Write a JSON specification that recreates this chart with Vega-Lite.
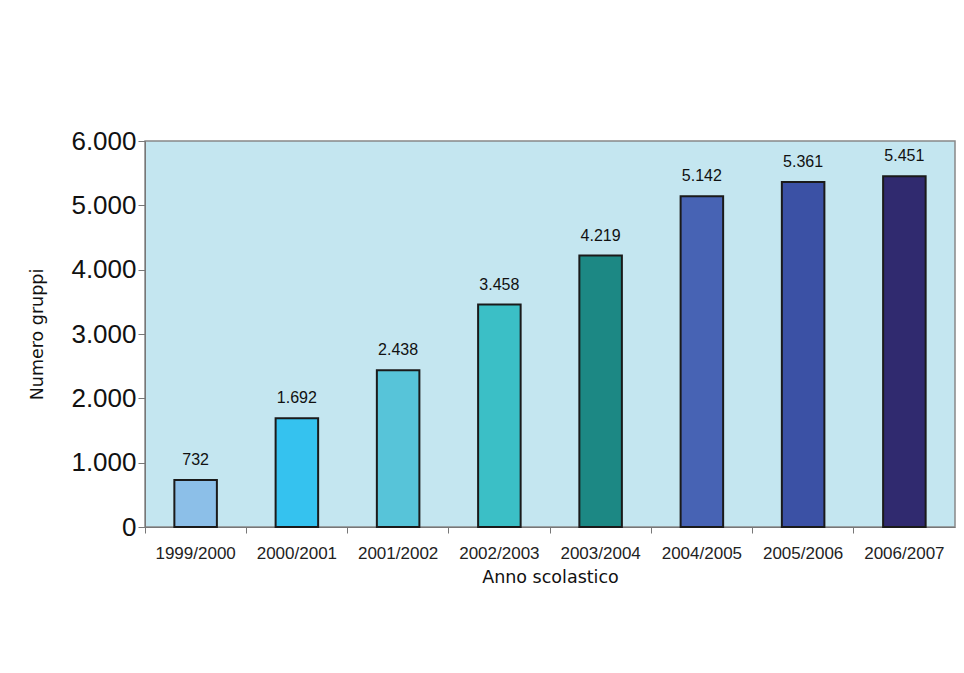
{
  "$schema": "https://vega.github.io/schema/vega-lite/v6.json",
  "width": 810,
  "height": 386,
  "autosize": "none",
  "padding": {"left": 145, "top": 141, "right": 9, "bottom": 146},
  "background": "white",
  "data": {"values": [
    {"anno": "1999/2000", "gruppi": 732},
    {"anno": "2000/2001", "gruppi": 1692},
    {"anno": "2001/2002", "gruppi": 2438},
    {"anno": "2002/2003", "gruppi": 3458},
    {"anno": "2003/2004", "gruppi": 4219},
    {"anno": "2004/2005", "gruppi": 5142},
    {"anno": "2005/2006", "gruppi": 5361},
    {"anno": "2006/2007", "gruppi": 5451}
  ]},
  "encoding": {
    "x": {
      "field": "anno", "type": "nominal", "sort": null,
      "scale": {"paddingInner": 0, "paddingOuter": 0},
      "axis": {
        "title": "Anno scolastico", "labelAngle": 0, "bandPosition": 0,
        "labelFont": "Liberation Sans", "labelFontSize": 17, "labelColor": "#222",
        "labelPadding": 12, "tickSize": 6, "tickColor": "#777", "domainColor": "#777",
        "titleFont": "DejaVu Sans", "titleFontSize": 17.5, "titleFontWeight": "normal", "titleColor": "#111",
        "titlePadding": 7
      }
    },
    "y": {
      "field": "gruppi", "type": "quantitative",
      "scale": {"domain": [0, 6000], "nice": false},
      "axis": {
        "title": "Numero gruppi", "values": [0, 1000, 2000, 3000, 4000, 5000, 6000],
        "format": ",d", "grid": false,
        "labelFont": "Liberation Sans", "labelFontSize": 26, "labelColor": "#111", "labelPadding": 2,
        "tickSize": 7, "tickColor": "#777", "domainColor": "#777",
        "titleFont": "DejaVu Sans", "titleFontSize": 17.5, "titleFontWeight": "normal", "titleColor": "#111",
        "titlePadding": 24
      }
    }
  },
  "layer": [
    {
      "mark": {"type": "bar", "width": {"band": 0.42}, "stroke": "#1a1a1a", "strokeWidth": 2},
      "encoding": {
        "color": {
          "field": "anno", "type": "nominal", "legend": null,
          "scale": {
            "domain": ["1999/2000", "2000/2001", "2001/2002", "2002/2003", "2003/2004", "2004/2005", "2005/2006", "2006/2007"],
            "range": ["#8cbfe8", "#35c2ef", "#57c4d9", "#3bbfc6", "#1c8884", "#4763b4", "#3b51a5", "#302a6f"]
          }
        }
      }
    },
    {
      "mark": {"type": "text", "baseline": "bottom", "dy": -12, "font": "Liberation Sans", "fontSize": 16, "color": "#111"},
      "encoding": {"text": {"field": "gruppi", "type": "quantitative", "format": ",d"}}
    }
  ],
  "config": {
    "locale": {"number": {"decimal": ",", "thousands": ".", "grouping": [3], "currency": ["€", ""]}},
    "view": {"fill": "#c4e6f0", "stroke": "#888", "strokeWidth": 1.5}
  }
}
